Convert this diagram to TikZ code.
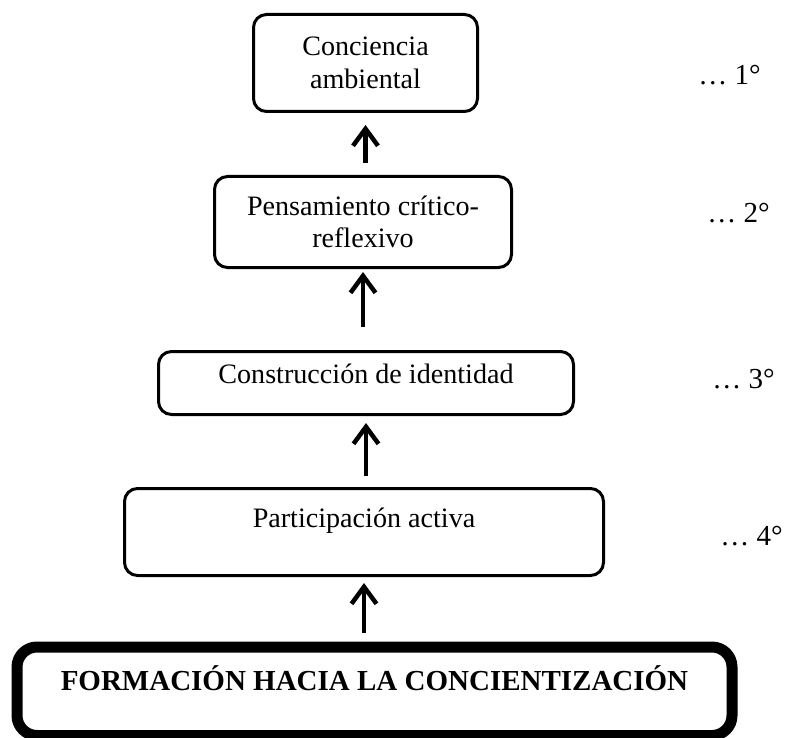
\documentclass[tikz,border=0pt]{standalone}
\usepackage{fontspec}
\setmainfont{Liberation Serif}
\usepackage{tikz}
\usetikzlibrary{arrows.meta,positioning,calc}

\begin{document}
\begin{tikzpicture}[
    stagebox/.style={draw, line width=0.06cm, rounded corners=0.26cm, align=center,
      font=\fontsize{16}{18.5}\selectfont},
    basebox/.style={draw, line width=0.22cm, rounded corners=0.4cm, inner ysep=0pt,
      font=\bfseries\fontsize{16.5}{19}\selectfont},
    rankmark/.style={anchor=base west, inner sep=0pt, font=\fontsize{16.5}{19}\selectfont},
    risearrow/.style={line width=0.09cm, -{Straight Barb[length=0.34cm,width=0.5cm]}}
  ]
    \useasboundingbox (0,0) rectangle (15.74,-14.76);
    % stages, from top to bottom
    \node[stagebox, minimum width=4.48cm, minimum height=1.94cm] (b1) at (7.31,-1.26) {Conciencia\\ambiental};
    \node[stagebox, minimum width=5.94cm, minimum height=1.82cm] (b2) at (7.26,-4.44) {Pensamiento crítico-\\reflexivo};
    \node[stagebox, minimum width=8.30cm, inner ysep=0pt, text height=0.63cm, text depth=0.63cm, anchor=base] (b3) at (7.32,-7.66) {Construcción de identidad};
    \node[stagebox, minimum width=9.58cm, inner ysep=0pt, text height=0.77cm, text depth=0.97cm, anchor=base] (b4) at (7.28,-10.54) {Participación activa};
    \node[basebox, minimum width=14.3cm, text height=0.86cm, text depth=0.91cm, anchor=base] (b5) at (7.49,-13.80) {FORMACIÓN HACIA LA CONCIENTIZACIÓN};
    % arrows between the stages
    \foreach \lo/\hi/\sa/\sb in {b2/b1/0.24/0.24, b3/b2/0.46/0.06, b4/b3/0.22/0.14, b5/b4/0.18/0.12} {
      \draw[risearrow, shorten <=\sa cm, shorten >=\sb cm] (\lo.north -| \hi.south) -- (\hi.south);
    }
    % order marks
    \foreach \n/\x/\y in {1/13.96/-1.70, 2/14.14/-4.46, 3/14.24/-7.76, 4/14.40/-10.90} {
      \node[rankmark] (r\n) at (\x,\y) {… \n°};
    }
  \end{tikzpicture}
\end{document}
